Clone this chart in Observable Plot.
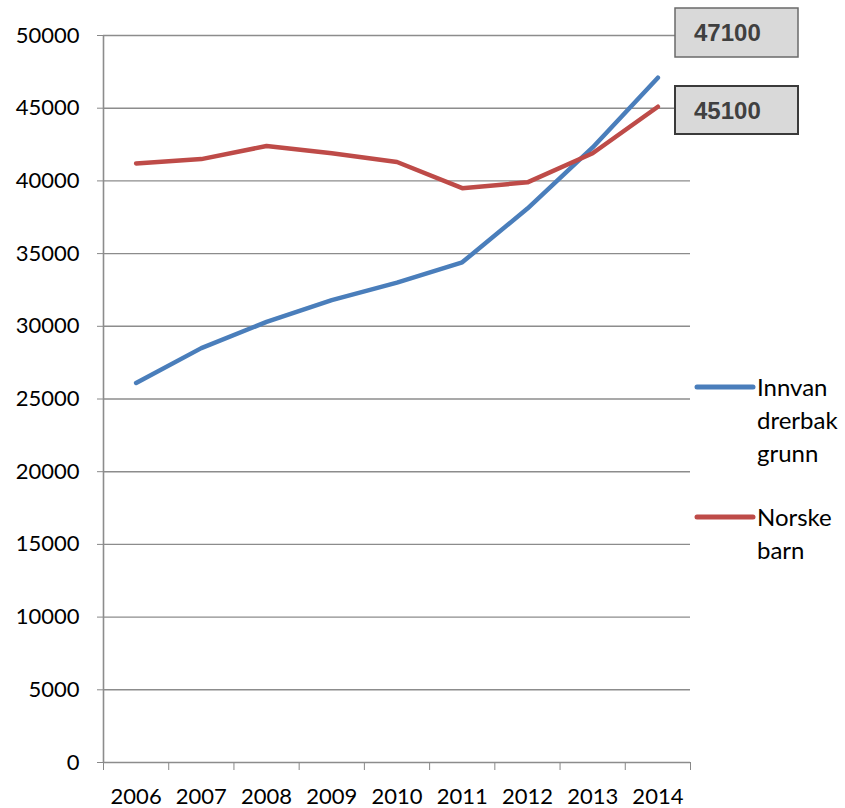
<!DOCTYPE html>
<html><head><meta charset="utf-8">
<script src="https://cdn.jsdelivr.net/npm/d3@7"></script>
<script src="https://cdn.jsdelivr.net/npm/@observablehq/plot@0.6"></script>
<style>body{margin:0;background:#fff}</style>
</head><body><div id="chart"></div>
<script>
const years = [2006, 2007, 2008, 2009, 2010, 2011, 2012, 2013, 2014];
const innvandrer = [26100, 28500, 30300, 31800, 33000, 34400, 38100, 42300, 47100];
const norske = [41200, 41500, 42400, 41900, 41300, 39500, 39900, 41900, 45100];
const yTicks = [0, 5000, 10000, 15000, 20000, 25000, 30000, 35000, 40000, 45000, 50000];
const seriesNames = ["Innvandrerbakgrunn", "Norske barn"];
const legendLines = [["Innvan", "drerbak", "grunn"], ["Norske", "barn"]];
const colors = ["#4a7ebb", "#be4b48"];

const boundaries = [years[0] - 0.5, ...years.map(y => y + 0.5)];
const rows = [];
years.forEach((y, i) => {
  rows.push({year: y, value: innvandrer[i], s: seriesNames[0]});
  rows.push({year: y, value: norske[i], s: seriesNames[1]});
});
const x0 = boundaries[0];

const svg = Plot.plot({
  width: 845, height: 808,
  marginLeft: 103, marginRight: 155, marginTop: 35, marginBottom: 46,
  style: {fontFamily: "Lato, sans-serif", fontSize: "22px", color: "#888", background: "white"},
  x: {type: "linear", domain: [boundaries[0], boundaries[boundaries.length - 1]], ticks: boundaries, tickSize: 8, tickFormat: () => "", label: null},
  y: {domain: [0, 50000], ticks: yTicks, tickSize: 6, tickFormat: () => "", label: null},
  color: {domain: seriesNames, range: colors},
  marks: [
    Plot.ruleY(yTicks.slice(1), {stroke: "#8c8c8c", strokeWidth: 1.4}),
    Plot.ruleY([0], {stroke: "#8c8c8c", strokeWidth: 1.6}),
    Plot.ruleX([x0], {stroke: "#8c8c8c", strokeWidth: 1.6}),
    Plot.line(rows, {x: "year", y: "value", z: "s", stroke: "s", strokeWidth: 4.5, strokeLinecap: "round", strokeLinejoin: "round"}),
    Plot.text(yTicks, {x: () => x0, y: d => d, text: d => String(d), dx: -24, textAnchor: "end", fill: "black", fontSize: 22}),
    Plot.text(years, {x: d => d, y: () => 0, text: d => String(d), dy: 34, fill: "black", fontSize: 22})
  ]
});
document.getElementById("chart").appendChild(svg);

const s = d3.select(svg);
// data label boxes
const boxes = [
  {v: innvandrer[innvandrer.length - 1], top: 8, h: 49, stroke: "#6a6a6a", sw: 1.5},
  {v: norske[norske.length - 1], top: 86, h: 48, stroke: "#3a3a3a", sw: 2}
];
boxes.forEach(b => {
  s.append("rect").attr("x", 675).attr("y", b.top).attr("width", 123).attr("height", b.h)
    .attr("fill", "#d9d9d9").attr("stroke", b.stroke).attr("stroke-width", b.sw);
  s.append("text").attr("x", 694).attr("y", b.top + b.h / 2).attr("dy", "0.36em")
    .attr("text-anchor", "start")
    .attr("font-family", "Liberation Sans, Arial, sans-serif").attr("font-weight", "bold")
    .attr("font-size", 24).attr("fill", "#404040").text(String(b.v));
});
// legend
const legendY = [387, 517];
legendLines.forEach((lines, i) => {
  s.append("line").attr("x1", 697).attr("x2", 753).attr("y1", legendY[i]).attr("y2", legendY[i])
    .attr("stroke", colors[i]).attr("stroke-width", 5).attr("stroke-linecap", "round");
  lines.forEach((t, j) => {
    s.append("text").attr("x", 757).attr("y", legendY[i] + j * 33).attr("dy", "0.36em")
      .attr("text-anchor", "start")
      .attr("font-family", "Lato, sans-serif").attr("font-size", 24).attr("fill", "black").text(t);
  });
});
</script>
</body></html>
